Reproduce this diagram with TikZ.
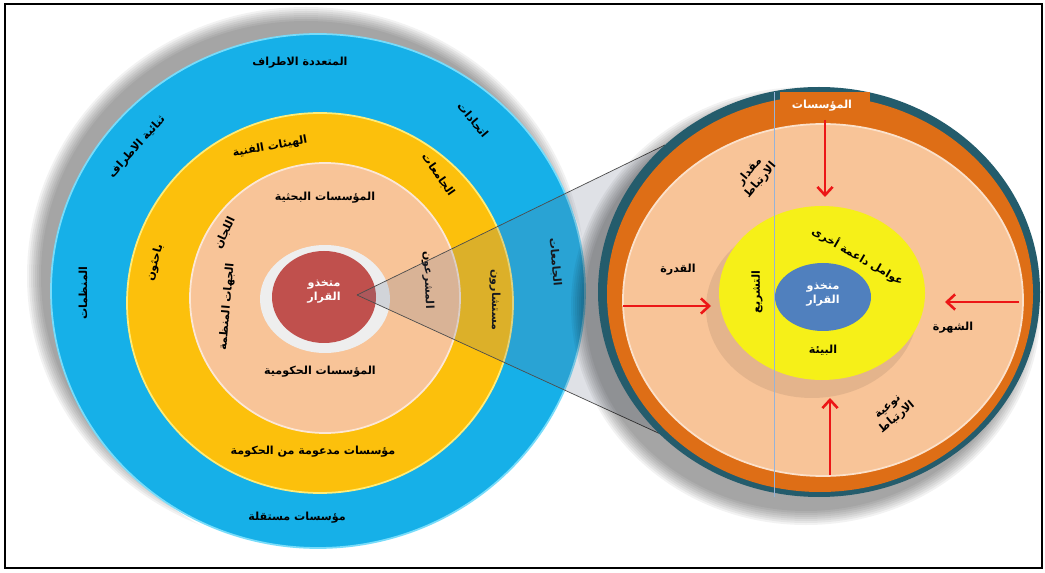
\documentclass[tikz,border=0pt]{standalone}
\usepackage{xcolor}
\usepackage{fontspec}
\usepackage{tikz}
\usetikzlibrary{arrows.meta}

\TeXXeTstate=1
\newfontfamily\arabicfont[Script=Arabic]{DejaVu Sans}
\newcommand{\artxt}[1]{\beginR#1\endR}

\definecolor{ringblue}{RGB}{22,176,232}
\definecolor{ringblueedge}{RGB}{120,220,250}
\definecolor{ringyellow}{RGB}{252,192,12}
\definecolor{ringyellowedge}{RGB}{255,236,120}
\definecolor{ringpeach}{RGB}{248,196,152}
\definecolor{coreglow}{RGB}{238,238,238}
\definecolor{corered}{RGB}{192,80,77}
\definecolor{rimteal}{RGB}{36,92,108}
\definecolor{rimorange}{RGB}{222,110,22}
\definecolor{zoneyellow}{RGB}{246,240,24}
\definecolor{coreblue}{RGB}{80,128,190}
\definecolor{arrowred}{RGB}{236,22,22}
\definecolor{lensgray}{RGB}{110,120,145}

\tikzset{
  lbl/.style={font=\arabicfont\bfseries\fontsize{9.5}{12}\selectfont, text=black, inner sep=1pt, align=center},
  lblw/.style={lbl, text=white},
  redarrow/.style={draw=arrowred, line width=2.2pt, -{Straight Barb[length=7pt,width=13pt]}},
}

\begin{document}
\begin{tikzpicture}[x=0.03cm, y=-0.03cm]
\useasboundingbox (0,0) rectangle (1045,573);
\fill[white] (0,0) rectangle (1045,573);

% left circle: soft shadow (top and left)
\foreach \i in {0,...,7}
  \fill[black, opacity=0.05] (306,276) ellipse [x radius=265+2*\i, y radius=255+2*\i];
\fill[white] (330,306) ellipse [x radius=262, y radius=252];

% left circle: rings
\filldraw[fill=ringblue, draw=ringblueedge, line width=1.5pt] (318,291) ellipse [x radius=267, y radius=257];
\filldraw[fill=ringyellow, draw=ringyellowedge, line width=1.5pt] (320,303) ellipse [x radius=193, y radius=190];
\filldraw[fill=ringpeach, draw=white!60!ringpeach, line width=1.5pt] (325,298) ellipse [x radius=135, y radius=135];
\fill[coreglow] (325,299) ellipse [x radius=65, y radius=54];
\fill[corered] (324,297) ellipse [x radius=52, y radius=46];
\node[lblw] (dmleft) at (324,292) {\artxt{متخذو}\\\artxt{القرار}};

% left circle: outer ring labels
\node[lbl] (multi) at (300,63) {\artxt{المتعددة الاطراف}};
\node[lbl, rotate=48] (bilat) at (137,147) {\artxt{ثنائية الاطراف}};
\node[lbl, rotate=90] (orgs) at (83,293) {\artxt{المنظمات}};
\node[lbl, rotate=-50] (unions) at (473,120) {\artxt{اتحادات}};
\node[lbl, rotate=-85] (assoc) at (555,262) {\artxt{الجامعات}};
\node[lbl] (indep) at (297,518) {\artxt{مؤسسات مستقلة}};

% left circle: middle ring labels
\node[lbl, rotate=10] (techbody) at (270,147) {\artxt{الهيئات الفنية}};
\node[lbl, rotate=-55] (univ) at (438,175) {\artxt{الجامعات}};
\node[lbl, rotate=75] (research) at (155,263) {\artxt{باحثون}};
\node[lbl, rotate=-90] (advisors) at (495,300) {\artxt{مستشارون}};
\node[lbl] (govfund) at (313,452) {\artxt{مؤسسات مدعومة من الحكومة}};

% left circle: inner ring labels
\node[lbl] (resinst) at (325,198) {\artxt{المؤسسات البحثية}};
\node[lbl, rotate=65] (committees) at (225,233) {\artxt{اللجان}};
\node[lbl, rotate=85] (regulators) at (227,307) {\artxt{الجهات المنظمة}};
\node[lbl, rotate=-88] (legislators) at (428,280) {\artxt{المشرعون}};
\node[lbl] (govinst) at (320,372) {\artxt{المؤسسات الحكومية}};

% magnifier wedge
\coordinate (apex) at (357,295);
\coordinate (lensup) at (665,145);
\coordinate (lensmid) at (720,300);
\coordinate (lenslow) at (667,437);
\fill[lensgray, opacity=0.22] (apex) -- (lensup) -- (lensmid) -- (lenslow) -- cycle;
\draw[black!70, line width=0.6pt] (apex) -- (lensup);
\draw[black!70, line width=0.6pt] (apex) -- (lenslow);

% right circle: shadow
\foreach \i in {0,...,7}
  \fill[black, opacity=0.05] (806,306) ellipse [x radius=221+2*\i, y radius=205+2*\i];

% right circle: rings
\fill[rimteal] (819,292) ellipse [x radius=221, y radius=205];
\fill[rimorange] (820,294) ellipse [x radius=213, y radius=198];
\fill[rimorange] (780,92) rectangle (870,116);
\filldraw[fill=ringpeach, draw=white!50!ringpeach, line width=1.5pt] (823,300) ellipse [x radius=200, y radius=176];
\fill[black, opacity=0.08] (812,308) ellipse [x radius=106, y radius=90];
\fill[zoneyellow] (822,293) ellipse [x radius=103, y radius=87];
\fill[coreblue] (823,297) ellipse [x radius=48, y radius=34];
\draw[coreblue!60!white, line width=0.8pt] (774,92) -- (774,497);
\node[lblw] (dmright) at (823,295) {\artxt{متخذو}\\\artxt{القرار}};

% right circle: labels
\node[lblw] (inst) at (822,106) {\artxt{المؤسسات}};
\node[lbl, rotate=50] (amount) at (755,176) {\artxt{مقدار}\\\artxt{الارتباط}};
\node[lbl] (capacity) at (678,270) {\artxt{القدرة}};
\node[lbl] (fame) at (953,328) {\artxt{الشهرة}};
\node[lbl, rotate=40] (kind) at (893,413) {\artxt{نوعية}\\\artxt{الارتباط}};
\node[lbl, rotate=-30] (support) at (858,256) {\artxt{عوامل داعمة أخرى}};
\node[lbl, rotate=90] (legis) at (757,292) {\artxt{التشريع}};
\node[lbl] (env) at (823,350) {\artxt{البيئة}};

% red arrows
\coordinate (topA) at (825,120);
\coordinate (topB) at (825,197);
\coordinate (leftA) at (623,306);
\coordinate (leftB) at (711,306);
\coordinate (rightA) at (1019,302);
\coordinate (rightB) at (945,302);
\coordinate (botA) at (830,475);
\coordinate (botB) at (830,398);
\draw[redarrow] (topA) -- (topB);
\draw[redarrow] (leftA) -- (leftB);
\draw[redarrow] (rightA) -- (rightB);
\draw[redarrow] (botA) -- (botB);

% frame
\draw[black, line width=1.5pt] (5,4) rectangle (1042,568);
\end{tikzpicture}
\end{document}
